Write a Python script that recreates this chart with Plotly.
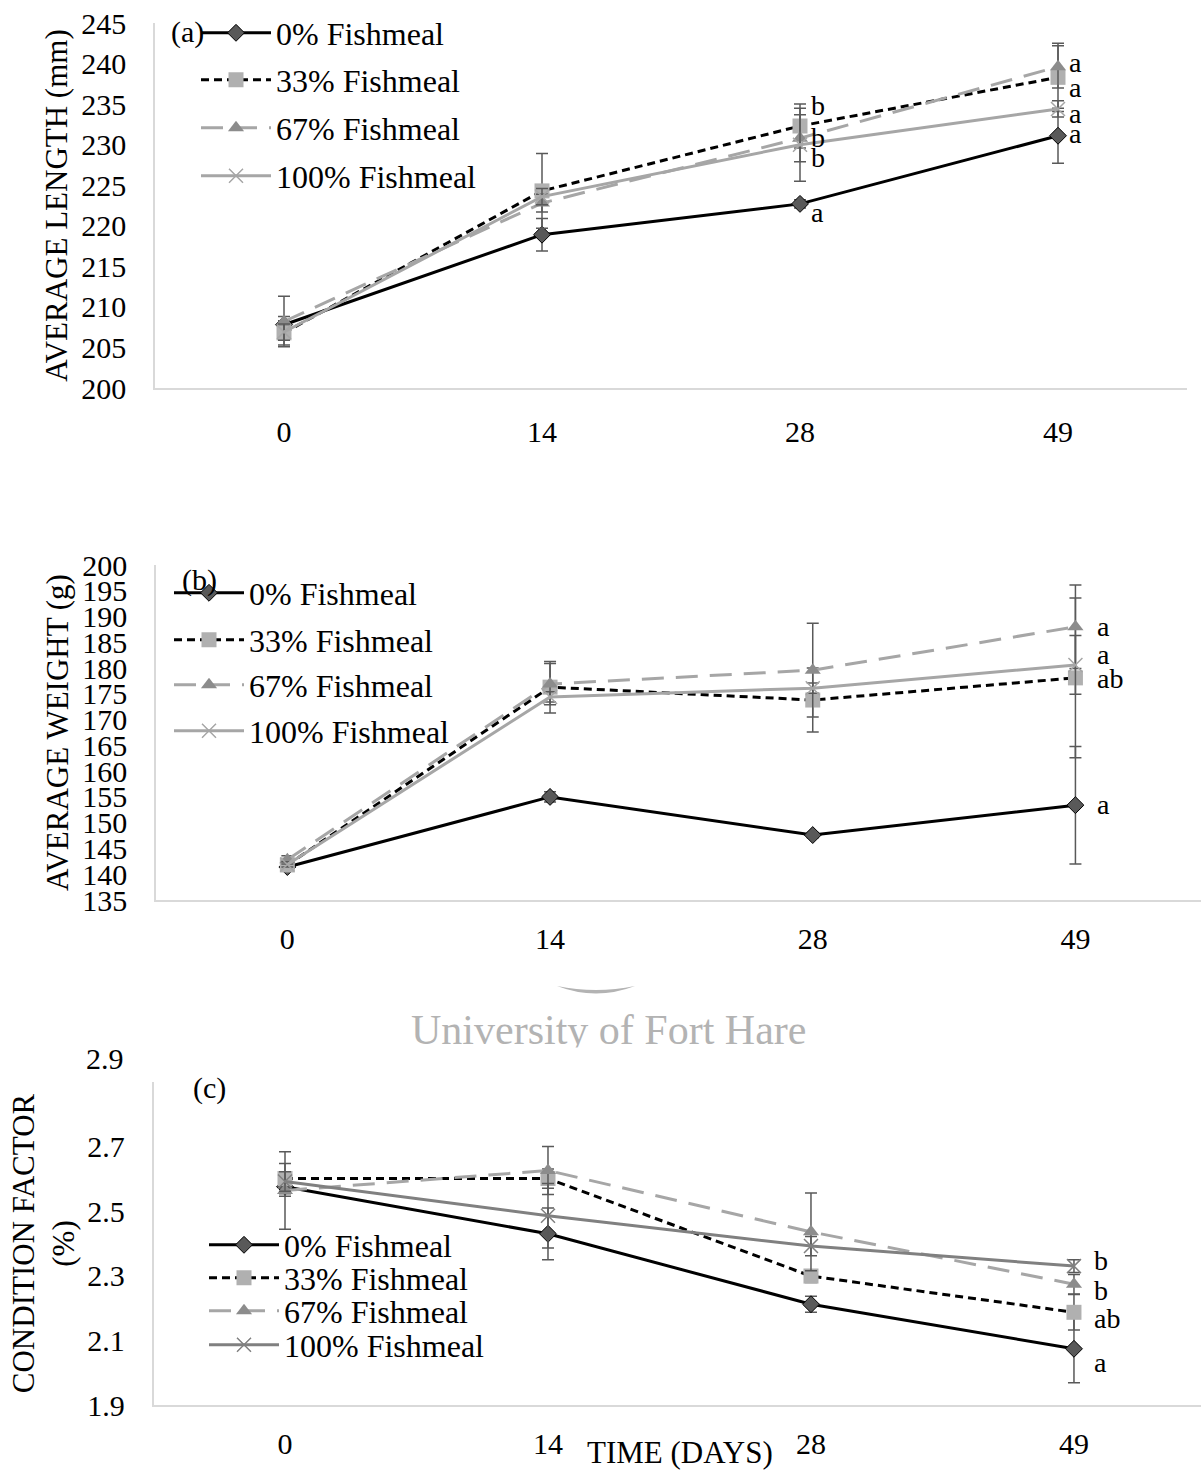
import plotly.graph_objects as go

W, H = 1201, 1470
FONT = "Liberation Serif"

# ---------------- data ----------------
days = ["0", "14", "28", "49"]
series = ["0% Fishmeal", "33% Fishmeal", "67% Fishmeal", "100% Fishmeal"]

length_0 = [207.8, 218.9, 222.7, 231.1]
length_33 = [206.8, 224.3, 232.3, 238.3]
length_67 = [208.2, 222.8, 230.8, 239.6]
length_100 = [206.9, 223.6, 230.0, 234.4]
length_err_0 = [1.0, 2.0, 0.5, 3.4]
length_err_33 = [1.5, 4.6, 2.7, 4.2]
length_err_67 = [3.1, 1.1, 2.9, 2.6]
length_err_100 = [1.0, 1.0, 4.5, 1.0]

weight_0 = [141.4, 155.0, 147.6, 153.4]
weight_33 = [141.8, 176.3, 173.8, 178.1]
weight_67 = [142.8, 176.9, 179.6, 188.0]
weight_100 = [141.9, 174.4, 176.1, 180.6]
weight_err_0 = [0.5, 1.0, 0.5, 11.4]
weight_err_33 = [0.5, 5.0, 6.2, 15.5]
weight_err_67 = [0.8, 4.0, 9.1, 8.1]
weight_err_100 = [0.5, 1.0, 1.0, 5.7]

cf_0 = [2.576, 2.430, 2.212, 2.074]
cf_33 = [2.601, 2.601, 2.299, 2.187]
cf_67 = [2.564, 2.626, 2.436, 2.274]
cf_100 = [2.592, 2.486, 2.392, 2.330]
cf_err_0 = [0.03, 0.08, 0.025, 0.105]
cf_err_33 = [0.047, 0.03, 0.02, 0.055]
cf_err_67 = [0.12, 0.074, 0.12, 0.03]
cf_err_100 = [0.03, 0.10, 0.03, 0.02]

length_ticks = [200, 205, 210, 215, 220, 225, 230, 235, 240, 245]
weight_ticks = [135, 140, 145, 150, 155, 160, 165, 170, 175, 180, 185, 190, 195, 200]
cf_ticks = [1.9, 2.1, 2.3, 2.5, 2.7]

# significance letters (day, letter, y position)
length_sig = [("28", "b", 234.8), ("28", "b", 230.9), ("28", "b", 228.4), ("28", "a", 221.6),
              ("49", "a", 240.1), ("49", "a", 237.0), ("49", "a", 233.9), ("49", "a", 231.4)]
weight_sig = [("49", "a", 188.0), ("49", "a", 182.7), ("49", "ab", 177.9), ("49", "a", 153.6)]
cf_sig = [("49", "b", 2.347), ("49", "b", 2.253), ("49", "ab", 2.168), ("49", "a", 2.032)]

# ---------------- helpers ----------------
def px(x):
    return x / W

def py(y):
    return 1 - y / H

BLACK = "#000000"
DGRAY = "#595959"
LGRAY = "#a6a6a6"
MGRAY = "#8c8c8c"
GRAY100C = "#808080"
ERRC = "#595959"

def styles(panel):
    c100 = GRAY100C if panel == "c" else LGRAY
    return [
        dict(line=dict(color=BLACK, width=3), marker=dict(symbol="diamond", size=13, color=DGRAY, line=dict(color=BLACK, width=1))),
        dict(line=dict(color=BLACK, width=3, dash="8px,5px"), marker=dict(symbol="square", size=15, color="#b0b0b0", line=dict(width=0))),
        dict(line=dict(color=LGRAY, width=3, dash="22px,12px"), marker=dict(symbol="triangle-up", size=14, color=MGRAY, line=dict(width=0))),
        dict(line=dict(color=c100, width=3), marker=dict(symbol="x-thin", size=14, color=c100, line=dict(color=c100, width=1.5))),
    ]

fig = go.Figure()

panels = [
    ("a", "x", "y", [length_0, length_33, length_67, length_100],
     [length_err_0, length_err_33, length_err_67, length_err_100]),
    ("b", "x2", "y2", [weight_0, weight_33, weight_67, weight_100],
     [weight_err_0, weight_err_33, weight_err_67, weight_err_100]),
    ("c", "x3", "y3", [cf_0, cf_33, cf_67, cf_100],
     [cf_err_0, cf_err_33, cf_err_67, cf_err_100]),
]

# legend row positions (pixel y) and legend box x
legend_rows = {
    "a": (196, [33, 80, 128, 176]),
    "b": (169, [593, 640, 685, 731]),
    "c": (204, [1245, 1278, 1311, 1345]),
}

legend_layouts = {}
k = 0
for panel, xa, ya, vals, errs in panels:
    st = styles(panel)
    lx, rows = legend_rows[panel]
    for i in range(4):
        k += 1
        lname = "legend" if k == 1 else f"legend{k}"
        fig.add_trace(go.Scatter(
            x=days, y=vals[i], name=series[i], mode="lines+markers",
            xaxis=xa, yaxis=ya, line=st[i]["line"], marker=st[i]["marker"],
            error_y=dict(type="data", array=errs[i], visible=True, color=ERRC, thickness=1.5, width=6),
            legend=lname, showlegend=True,
        ))
        legend_layouts[lname] = dict(
            x=px(lx), y=py(rows[i]), xanchor="left", yanchor="middle",
            bgcolor="rgba(0,0,0,0)", borderwidth=0, itemwidth=70,
            font=dict(family=FONT, size=32, color="black"),
            tracegroupgap=0,
        )

fig.update_layout(**legend_layouts)

axis_common = dict(
    showgrid=False, zeroline=False, showline=True, linecolor="#d9d9d9", linewidth=1.5,
    ticks="", tickfont=dict(family=FONT, size=30, color="black"), automargin=False,
)

fig.update_layout(
    width=W, height=H, autosize=False,
    margin=dict(l=0, r=0, t=0, b=0, autoexpand=False),
    paper_bgcolor="white", plot_bgcolor="white",
    font=dict(family=FONT, color="black"),
    xaxis=dict(axis_common, domain=[px(155), px(1187)], anchor="y", type="category",
               range=[-0.5, 3.5], ticklabelstandoff=16),
    yaxis=dict(axis_common, domain=[py(388), py(23)], anchor="x", range=[200, 245],
               tickvals=length_ticks, ticklabelstandoff=21,
               title=dict(text="AVERAGE LENGTH (mm)", font=dict(family=FONT, size=31), standoff=4)),
    xaxis2=dict(axis_common, domain=[px(156), 1.0], anchor="y2", type="category",
                range=[-0.5, 3.478], ticklabelstandoff=11),
    yaxis2=dict(axis_common, domain=[py(900), py(565)], anchor="x2", range=[135, 200],
                tickvals=weight_ticks, ticklabelstandoff=21,
                title=dict(text="AVERAGE WEIGHT (g)", font=dict(family=FONT, size=31), standoff=4)),
    xaxis3=dict(axis_common, domain=[px(153.5), 1.0], anchor="y3", type="category",
                range=[-0.5, 3.483], ticklabelstandoff=11),
    yaxis3=dict(axis_common, domain=[py(1405), py(1082)], anchor="x3", range=[1.9, 2.9],
                tickvals=cf_ticks, tickformat=".1f", ticklabelstandoff=21,
                title=dict(text="CONDITION FACTOR<br>(%)", font=dict(family=FONT, size=31), standoff=3)),
)

def txt(size, color="black"):
    return dict(family=FONT, size=size, color=color)

ann = []
for day, letter, yv in length_sig:
    ann.append(dict(x=days.index(day), y=yv, xref="x", yref="y", text=letter, showarrow=False,
                    xanchor="left", yanchor="middle", xshift=9, font=txt(28)))
for day, letter, yv in weight_sig:
    ann.append(dict(x=days.index(day), y=yv, xref="x2", yref="y2", text=letter, showarrow=False,
                    xanchor="left", yanchor="middle", xshift=20, font=txt(28)))
for day, letter, yv in cf_sig:
    ann.append(dict(x=days.index(day), y=yv, xref="x3", yref="y3", text=letter, showarrow=False,
                    xanchor="left", yanchor="middle", xshift=18, font=txt(28)))

# watermark, panel tags and axis-label quirks
ann += [
    dict(x=px(608), y=py(1030), xref="paper", yref="paper", text="University of Fort Hare",
         showarrow=False, xanchor="center", yanchor="middle", font=txt(42, "#b3b3b3")),
    # white band that clips the bottom of the watermark as in the original scan
    dict(x=px(608), y=py(1047), xref="paper", yref="paper", text=" ", showarrow=False,
         xanchor="center", yanchor="top", width=440, height=8, bgcolor="white", borderpad=0,
         font=txt(4)),
    dict(x=px(187), y=py(32), xref="paper", yref="paper", text="(a)", showarrow=False,
         xanchor="center", yanchor="middle", font=txt(30)),
    dict(x=px(199), y=py(580), xref="paper", yref="paper", text="(b)", showarrow=False,
         xanchor="center", yanchor="middle", font=txt(30)),
    dict(x=px(209), y=py(1088), xref="paper", yref="paper", text="(c)", showarrow=False,
         xanchor="center", yanchor="middle", font=txt(30)),
    dict(x=px(126), y=py(1058), xref="paper", yref="paper", text="2.9", showarrow=False,
         xanchor="right", yanchor="middle", font=txt(30)),
    dict(x=px(680), y=py(1452), xref="paper", yref="paper", text="TIME (DAYS)", showarrow=False,
         xanchor="center", yanchor="middle", font=txt(31)),
]
fig.update_layout(annotations=ann)

# watermark logo arc
arc = "M {:.5f},{:.5f} Q {:.5f},{:.5f} {:.5f},{:.5f} Q {:.5f},{:.5f} {:.5f},{:.5f} Z".format(
    px(557), py(986), px(596), py(1001), px(635), py(986), px(596), py(994), px(557), py(986))
fig.update_layout(shapes=[dict(type="path", path=arc, xref="paper", yref="paper",
                               fillcolor="#b3b3b3", line=dict(width=0))])

fig.write_html("out.html", config={"displayModeBar": False},
               post_script="document.body.style.margin='0px';")
